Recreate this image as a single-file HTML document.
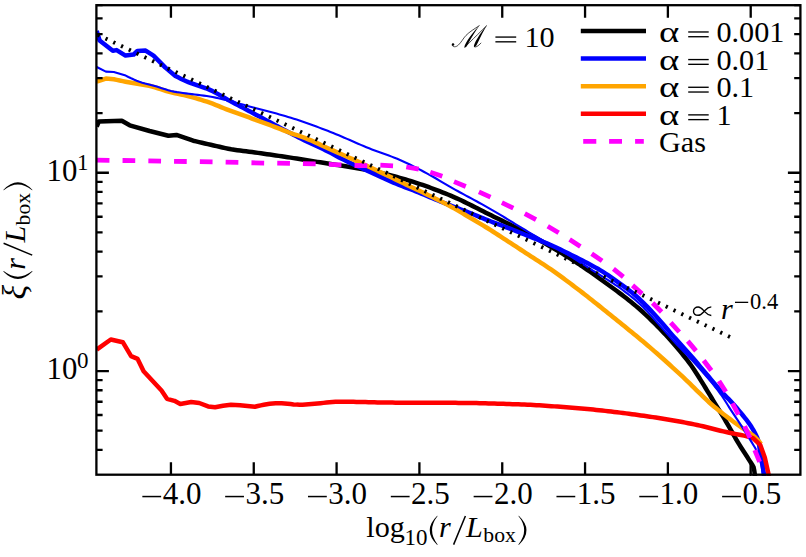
<!DOCTYPE html>
<html><head><meta charset="utf-8"><title>xi(r/Lbox)</title>
<style>html,body{margin:0;padding:0;background:#fff;}svg{display:block;}text{font-family:"Liberation Serif",serif;fill:#000;}.i{font-style:italic;}</style></head><body>
<svg width="806" height="557" viewBox="0 0 806 557">
<rect x="0" y="0" width="806" height="557" fill="#fff"/>
<defs><clipPath id="c"><rect x="96.4" y="5.2" width="704" height="470.7"/></clipPath></defs>
<g clip-path="url(#c)" fill="none" stroke-linejoin="round" stroke-linecap="butt">
<path d="M96.7 126.5 L98.9 121.4 L121.8 120.8 L129.7 125.3 L149.6 131 L168.4 135.7 L176.4 134.9 L193.2 140.7 L196.12 141.39 L199.04 142.08 L201.96 142.76 L204.88 143.44 L207.81 144.1 L210.73 144.77 L213.66 145.43 L216.59 146.1 L219.51 146.79 L222.44 147.48 L225.36 148.14 L228.3 148.76 L231.24 149.32 L234.2 149.8 L237.16 150.22 L240.14 150.6 L243.12 150.95 L246.1 151.31 L249.08 151.68 L252.05 152.08 L255.03 152.48 L258 152.89 L260.97 153.31 L263.94 153.73 L266.91 154.15 L269.88 154.57 L272.85 155 L275.82 155.44 L278.79 155.87 L281.75 156.31 L284.72 156.75 L287.69 157.2 L290.65 157.64 L293.62 158.1 L296.58 158.55 L299.55 159.02 L302.51 159.49 L305.48 159.96 L308.44 160.43 L311.4 160.91 L314.36 161.38 L317.32 161.86 L320.29 162.34 L323.25 162.82 L326.21 163.29 L329.17 163.76 L332.14 164.23 L335.1 164.69 L338.07 165.14 L341.04 165.58 L344 166.03 L346.97 166.49 L349.94 166.95 L352.9 167.42 L355.86 167.91 L358.81 168.42 L361.76 168.96 L364.71 169.52 L367.65 170.1 L370.59 170.71 L373.52 171.35 L376.45 172 L379.38 172.67 L382.3 173.35 L385.21 174.05 L388.13 174.76 L391.04 175.49 L393.95 176.24 L396.85 177.01 L399.75 177.8 L402.63 178.61 L405.51 179.45 L408.38 180.32 L411.24 181.21 L414.09 182.12 L416.95 183.05 L419.8 184.01 L422.64 184.98 L425.48 185.97 L428.31 186.98 L431.13 188.01 L433.95 189.06 L436.76 190.12 L439.56 191.2 L442.36 192.3 L445.14 193.41 L447.91 194.54 L450.67 195.68 L453.42 196.86 L456.16 198.07 L458.89 199.31 L461.6 200.58 L464.31 201.87 L467 203.19 L469.7 204.52 L472.38 205.87 L475.07 207.22 L477.75 208.58 L480.43 209.94 L483.11 211.3 L485.79 212.65 L488.48 213.99 L491.17 215.32 L493.86 216.65 L496.55 217.97 L499.25 219.29 L501.94 220.61 L504.64 221.94 L507.33 223.26 L510.02 224.6 L512.7 225.94 L515.38 227.29 L518.06 228.65 L520.73 230.02 L523.39 231.4 L526.04 232.8 L528.68 234.21 L531.31 235.64 L533.94 237.08 L536.56 238.54 L539.18 240.01 L541.79 241.49 L544.4 242.98 L547 244.48 L549.59 245.99 L552.18 247.51 L554.76 249.05 L557.33 250.59 L559.9 252.14 L562.47 253.7 L565.02 255.27 L567.57 256.85 L570.12 258.44 L572.64 260.05 L575.16 261.69 L577.66 263.34 L580.16 265 L582.66 266.67 L585.15 268.34 L587.64 270.01 L590.12 271.7 L592.59 273.41 L595.03 275.14 L597.45 276.92 L599.86 278.7 L602.29 280.46 L604.73 282.21 L607.16 283.97 L609.6 285.72 L612.02 287.49 L614.44 289.26 L616.86 291.03 L619.27 292.82 L621.67 294.63 L624.05 296.45 L626.42 298.29 L628.78 300.15 L631.11 302.03 L633.43 303.93 L635.73 305.86 L638.01 307.81 L640.28 309.78 L642.52 311.77 L644.73 313.8 L646.91 315.85 L649.08 317.93 L651.22 320.03 L653.36 322.14 L655.48 324.26 L657.58 326.4 L659.67 328.56 L661.75 330.72 L663.83 332.88 L665.89 335.06 L667.94 337.25 L669.96 339.47 L671.96 341.7 L673.93 343.96 L675.89 346.24 L677.82 348.53 L679.74 350.84 L681.64 353.17 L683.52 355.5 L685.4 357.85 L687.26 360.21 L689.08 362.59 L690.87 365 L692.6 367.44 L694.28 369.92 L695.9 372.44 L697.5 374.99 L699.09 377.54 L700.68 380.08 L702.26 382.63 L703.83 385.18 L705.4 387.74 L706.96 390.3 L708.53 392.86 L710.08 395.43 L711.63 398 L713.18 400.57 L714.73 403.13 L716.3 405.69 L717.89 408.23 L719.49 410.77 L721.08 413.32 L722.65 415.88 L724.18 418.45 L725.69 421.04 L727.2 423.64 L728.7 426.24 L730.2 428.84 L731.69 431.44 L733.16 434.05 L734.64 436.67 L736.13 439.27 L737.64 441.86 L739.19 444.43 L740.78 446.97 L742.4 449.5 L744.03 452.02 L745.67 454.53 L747.29 457.06 L748.88 459.6 L750.49 462.16 L752.27 464.7 L753.62 467.33 L754.19 470.12 L754.62 473.03 L754.91 476.06 L755 479" stroke="#000" stroke-width="4.5"/>
<path d="M750.5 464 L750.5 476" stroke="#000" stroke-width="1.4"/>
<path d="M96.7 31 L99.6 40.5 L112.8 50.8 L116.6 50.1 L125.5 55.6 L133.7 54.5 L137.4 51 L145.6 50.6 L153.5 55.7 L165.4 67.6 L175.4 76 L178.08 77.37 L180.78 78.7 L183.49 79.98 L186.23 81.2 L188.98 82.37 L191.77 83.45 L194.61 84.45 L197.47 85.39 L200.34 86.31 L203.19 87.26 L206.02 88.26 L208.79 89.37 L211.49 90.6 L214.16 91.94 L216.79 93.38 L219.4 94.88 L222 96.4 L224.6 97.92 L227.21 99.42 L229.85 100.86 L232.5 102.27 L235.15 103.68 L237.8 105.08 L240.45 106.47 L243.11 107.87 L245.77 109.26 L248.42 110.66 L251.07 112.07 L253.72 113.48 L256.36 114.9 L259 116.32 L261.64 117.75 L264.28 119.17 L266.92 120.61 L269.56 122.04 L272.2 123.47 L274.84 124.89 L277.48 126.32 L280.12 127.74 L282.77 129.15 L285.42 130.56 L288.07 131.96 L290.73 133.35 L293.39 134.73 L296.06 136.1 L298.73 137.46 L301.41 138.8 L304.11 140.12 L306.81 141.41 L309.53 142.69 L312.24 143.96 L314.96 145.23 L317.68 146.5 L320.4 147.78 L323.1 149.08 L325.8 150.39 L328.48 151.73 L331.14 153.11 L333.78 154.55 L336.41 156 L339.05 157.41 L341.73 158.77 L344.42 160.09 L347.12 161.4 L349.83 162.68 L352.55 163.95 L355.27 165.21 L358 166.46 L360.73 167.7 L363.47 168.94 L366.2 170.18 L368.93 171.42 L371.66 172.67 L374.38 173.93 L377.11 175.19 L379.84 176.44 L382.56 177.7 L385.3 178.94 L388.03 180.17 L390.78 181.38 L393.53 182.58 L396.29 183.74 L399.06 184.88 L401.85 185.98 L404.67 187.02 L407.48 188.05 L410.29 189.11 L413.08 190.21 L415.87 191.33 L418.64 192.45 L421.42 193.6 L424.19 194.74 L426.96 195.9 L429.73 197.05 L432.5 198.21 L435.27 199.36 L438.04 200.51 L440.82 201.64 L443.6 202.76 L446.39 203.87 L449.18 204.96 L451.98 206.05 L454.78 207.13 L457.58 208.21 L460.38 209.29 L463.18 210.37 L465.97 211.46 L468.77 212.55 L471.55 213.66 L474.33 214.78 L477.11 215.92 L479.89 217.05 L482.67 218.19 L485.45 219.31 L488.23 220.42 L491.03 221.51 L493.83 222.58 L496.64 223.64 L499.45 224.68 L502.27 225.73 L505.08 226.78 L507.88 227.84 L510.68 228.92 L513.47 230.02 L516.26 231.12 L519.05 232.24 L521.83 233.35 L524.61 234.48 L527.4 235.6 L530.18 236.71 L532.97 237.81 L535.77 238.91 L538.56 240 L541.35 241.11 L544.14 242.23 L546.91 243.38 L549.66 244.56 L552.4 245.78 L555.12 247.03 L557.84 248.31 L560.54 249.6 L563.24 250.92 L565.94 252.24 L568.63 253.57 L571.32 254.9 L574 256.24 L576.68 257.59 L579.35 258.95 L582.02 260.33 L584.68 261.71 L587.33 263.11 L589.98 264.52 L592.63 265.94 L595.27 267.37 L597.89 268.83 L600.48 270.34 L603.02 271.92 L605.54 273.54 L608.04 275.21 L610.52 276.9 L612.98 278.63 L615.43 280.36 L617.87 282.11 L620.31 283.85 L622.76 285.6 L625.19 287.35 L627.61 289.14 L629.99 290.96 L632.33 292.83 L634.62 294.76 L636.87 296.75 L639.08 298.78 L641.26 300.84 L643.42 302.92 L645.55 305.04 L647.65 307.18 L649.74 309.34 L651.8 311.52 L653.83 313.72 L655.84 315.95 L657.83 318.19 L659.81 320.45 L661.79 322.71 L663.75 324.97 L665.71 327.25 L667.65 329.54 L669.59 331.83 L671.54 334.11 L673.51 336.37 L675.5 338.61 L677.5 340.85 L679.5 343.08 L681.51 345.31 L683.53 347.53 L685.56 349.74 L687.59 351.95 L689.61 354.17 L691.61 356.41 L693.57 358.67 L695.51 360.96 L697.43 363.27 L699.34 365.58 L701.25 367.89 L703.18 370.19 L705.11 372.49 L707.05 374.77 L708.99 377.06 L710.93 379.35 L712.85 381.66 L714.76 383.98 L716.68 386.29 L718.62 388.57 L720.6 390.82 L722.65 393.01 L724.74 395.16 L726.86 397.29 L728.96 399.43 L731.02 401.61 L733.04 403.83 L735.03 406.07 L737 408.34 L738.95 410.62 L740.87 412.93 L742.76 415.26 L744.64 417.6 L746.5 419.96 L748.31 422.36 L750.04 424.81 L751.67 427.31 L753.24 429.88 L754.69 432.51 L756.04 435.19 L757.32 437.94 L758.26 440.75 L758.89 443.65 L759.39 446.61 L759.82 449.6 L760.26 452.59 L760.78 455.55 L761.38 458.49 L761.98 461.43 L762.51 464.38 L762.97 467.34 L763.39 470.31 L763.78 473.28 L764.13 476.27 L764.4 479" stroke="#00f" stroke-width="4.5"/>
<path d="M96.7 81.5 L105.9 78.6 L113.8 79.2 L116.73 79.85 L119.66 80.48 L122.6 81.1 L125.54 81.69 L128.48 82.27 L131.43 82.81 L134.4 83.31 L137.37 83.77 L140.34 84.23 L143.3 84.71 L146.25 85.23 L149.18 85.81 L152.09 86.51 L154.97 87.33 L157.83 88.24 L160.68 89.2 L163.54 90.15 L166.4 91.05 L169.29 91.87 L172.2 92.59 L175.12 93.25 L178.06 93.88 L181 94.5 L183.93 95.13 L186.86 95.79 L189.76 96.52 L192.66 97.3 L195.55 98.12 L198.43 98.97 L201.3 99.86 L204.16 100.78 L207 101.72 L209.84 102.69 L212.65 103.73 L215.44 104.82 L218.22 105.95 L221 107.1 L223.77 108.24 L226.56 109.36 L229.36 110.43 L232.17 111.47 L235 112.49 L237.82 113.49 L240.65 114.49 L243.48 115.48 L246.31 116.48 L249.14 117.49 L251.96 118.51 L254.78 119.54 L257.6 120.56 L260.42 121.59 L263.23 122.62 L266.05 123.66 L268.86 124.7 L271.67 125.75 L274.48 126.8 L277.29 127.86 L280.09 128.94 L282.88 130.04 L285.67 131.14 L288.47 132.23 L291.28 133.28 L294.11 134.27 L296.95 135.24 L299.8 136.21 L302.63 137.19 L305.45 138.21 L308.24 139.3 L311 140.45 L313.75 141.65 L316.48 142.89 L319.2 144.16 L321.92 145.44 L324.64 146.72 L327.36 147.98 L330.1 149.21 L332.84 150.43 L335.59 151.64 L338.33 152.84 L341.08 154.04 L343.83 155.25 L346.57 156.47 L349.31 157.69 L352.04 158.92 L354.77 160.17 L357.5 161.42 L360.23 162.67 L362.95 163.93 L365.67 165.2 L368.39 166.47 L371.1 167.74 L373.82 169.02 L376.53 170.31 L379.24 171.6 L381.94 172.89 L384.65 174.19 L387.35 175.49 L390.06 176.79 L392.76 178.09 L395.46 179.4 L398.16 180.7 L400.86 182.01 L403.56 183.31 L406.27 184.6 L408.98 185.89 L411.69 187.18 L414.41 188.47 L417.12 189.76 L419.83 191.05 L422.54 192.34 L425.25 193.64 L427.95 194.94 L430.65 196.25 L433.35 197.57 L436.04 198.9 L438.72 200.24 L441.39 201.6 L444.06 202.97 L446.71 204.35 L449.36 205.76 L451.99 207.18 L454.61 208.64 L457.22 210.13 L459.81 211.64 L462.4 213.16 L464.98 214.69 L467.57 216.22 L470.15 217.75 L472.73 219.27 L475.32 220.8 L477.9 222.33 L480.47 223.87 L483.04 225.41 L485.61 226.97 L488.16 228.54 L490.71 230.13 L493.24 231.73 L495.76 233.36 L498.28 234.99 L500.79 236.63 L503.3 238.28 L505.81 239.92 L508.32 241.57 L510.83 243.2 L513.35 244.84 L515.86 246.47 L518.38 248.11 L520.89 249.75 L523.41 251.39 L525.92 253.03 L528.43 254.67 L530.94 256.3 L533.46 257.94 L535.98 259.56 L538.51 261.19 L541.03 262.82 L543.54 264.46 L546.05 266.11 L548.54 267.78 L551.01 269.47 L553.47 271.18 L555.92 272.91 L558.36 274.66 L560.79 276.42 L563.21 278.19 L565.62 279.97 L568.03 281.77 L570.43 283.57 L572.83 285.37 L575.22 287.19 L577.61 289 L579.99 290.82 L582.37 292.65 L584.74 294.48 L587.11 296.33 L589.47 298.18 L591.83 300.03 L594.18 301.89 L596.53 303.76 L598.87 305.63 L601.21 307.51 L603.55 309.39 L605.89 311.27 L608.22 313.16 L610.56 315.05 L612.89 316.93 L615.22 318.82 L617.55 320.71 L619.89 322.59 L622.22 324.48 L624.55 326.36 L626.89 328.25 L629.22 330.14 L631.55 332.03 L633.87 333.93 L636.19 335.83 L638.51 337.74 L640.82 339.65 L643.12 341.57 L645.42 343.51 L647.7 345.45 L649.98 347.4 L652.25 349.36 L654.52 351.33 L656.78 353.3 L659.03 355.28 L661.27 357.27 L663.52 359.27 L665.75 361.27 L667.98 363.27 L670.21 365.28 L672.43 367.3 L674.65 369.32 L676.86 371.34 L679.07 373.38 L681.26 375.42 L683.45 377.47 L685.63 379.54 L687.8 381.61 L689.94 383.71 L692.08 385.82 L694.21 387.93 L696.34 390.04 L698.49 392.14 L700.64 394.22 L702.8 396.31 L704.96 398.39 L707.14 400.46 L709.34 402.49 L711.58 404.48 L713.86 406.43 L716.18 408.34 L718.51 410.23 L720.86 412.09 L723.22 413.95 L725.59 415.78 L727.99 417.59 L730.39 419.39 L732.79 421.18 L735.21 422.96 L737.64 424.72 L740.07 426.48 L742.51 428.23 L744.97 429.96 L747.49 431.62 L750.02 433.29 L752.45 435.03 L754.73 436.92 L756.85 439 L758.84 441.25 L760.72 443.63 L761 444" stroke="#ffa500" stroke-width="4.5"/>
<path d="M96.7 349.6 L110.8 339.5 L122.8 342.2 L131.1 356.1 L137.6 358.9 L143.6 371.2 L161.5 390.5 L167 398.8 L174.4 400.8 L180.3 404 L191.2 402 L199.2 403 L208.1 406.4 L215.1 407.3 L223 405.8 L230.9 404.8 L240 405.3 L254.9 406.8 L257.85 406.03 L260.81 405.33 L263.77 404.72 L266.74 404.2 L269.71 403.78 L272.68 403.46 L275.65 403.27 L278.63 403.2 L281.61 403.28 L284.6 403.49 L287.59 403.79 L290.59 404.1 L293.59 404.4 L296.58 404.62 L299.58 404.7 L302.57 404.66 L305.56 404.53 L308.55 404.34 L311.54 404.1 L314.53 403.82 L317.52 403.51 L320.52 403.19 L323.51 402.87 L326.5 402.56 L329.49 402.28 L332.48 402.05 L335.48 401.86 L338.47 401.74 L341.47 401.7 L344.46 401.71 L347.46 401.74 L350.46 401.78 L353.46 401.83 L356.46 401.89 L359.46 401.96 L362.46 402.04 L365.46 402.12 L368.46 402.2 L371.46 402.28 L374.46 402.35 L377.46 402.42 L380.46 402.48 L383.46 402.54 L386.46 402.58 L389.46 402.6 L392.46 402.62 L395.46 402.64 L398.46 402.66 L401.46 402.67 L404.46 402.69 L407.46 402.7 L410.46 402.71 L413.46 402.72 L416.46 402.73 L419.46 402.73 L422.46 402.74 L425.46 402.75 L428.46 402.76 L431.46 402.77 L434.46 402.78 L437.46 402.79 L440.46 402.8 L443.46 402.81 L446.46 402.82 L449.46 402.84 L452.46 402.85 L455.46 402.87 L458.46 402.89 L461.46 402.91 L464.46 402.94 L467.46 402.98 L470.46 403.02 L473.46 403.07 L476.46 403.12 L479.46 403.18 L482.46 403.25 L485.46 403.32 L488.46 403.4 L491.46 403.48 L494.46 403.56 L497.46 403.65 L500.45 403.74 L503.45 403.84 L506.45 403.94 L509.45 404.04 L512.45 404.14 L515.44 404.25 L518.44 404.36 L521.44 404.47 L524.43 404.59 L527.43 404.73 L530.43 404.87 L533.42 405.03 L536.42 405.2 L539.41 405.37 L542.41 405.56 L545.4 405.75 L548.4 405.95 L551.39 406.16 L554.38 406.37 L557.38 406.59 L560.37 406.82 L563.36 407.04 L566.35 407.28 L569.35 407.51 L572.34 407.75 L575.33 407.99 L578.31 408.24 L581.3 408.48 L584.29 408.75 L587.28 409.02 L590.27 409.31 L593.25 409.61 L596.24 409.92 L599.22 410.23 L602.2 410.56 L605.19 410.88 L608.17 411.22 L611.15 411.56 L614.13 411.9 L617.1 412.26 L620.08 412.63 L623.06 413.01 L626.03 413.39 L629.01 413.78 L631.98 414.18 L634.96 414.59 L637.93 414.99 L640.9 415.41 L643.87 415.82 L646.84 416.25 L649.81 416.68 L652.78 417.12 L655.75 417.56 L658.71 418.02 L661.67 418.48 L664.64 418.96 L667.6 419.45 L670.55 419.95 L673.51 420.46 L676.46 420.98 L679.42 421.51 L682.37 422.05 L685.32 422.61 L688.27 423.18 L691.21 423.76 L694.15 424.36 L697.09 424.97 L700.02 425.6 L702.94 426.27 L705.85 426.99 L708.75 427.75 L711.65 428.52 L714.56 429.29 L717.46 430.04 L720.38 430.75 L723.3 431.42 L726.23 432.07 L729.16 432.7 L732.09 433.32 L735.03 433.92 L737.98 434.5 L740.92 435.07 L743.88 435.62 L746 436 L753 438.2 L760.2 444.8 L764.8 457.5 L769.6 479" stroke="#f00" stroke-width="4.5"/>
<path d="M96.7 67 L105.9 71.6 L113.8 72 L125.7 75.6 L128.39 76.99 L131.1 78.31 L133.85 79.54 L136.61 80.69 L139.41 81.75 L142.23 82.7 L145.1 83.54 L148 84.3 L150.92 85.02 L153.84 85.75 L156.73 86.56 L159.61 87.45 L162.47 88.39 L165.33 89.33 L168.2 90.21 L171.09 90.99 L174 91.61 L176.94 92.12 L179.91 92.56 L182.89 92.96 L185.87 93.35 L188.85 93.74 L191.83 94.14 L194.81 94.51 L197.79 94.87 L200.77 95.24 L203.74 95.62 L206.71 96.04 L209.67 96.51 L212.62 97.05 L215.56 97.64 L218.49 98.29 L221.42 98.96 L224.34 99.64 L227.25 100.35 L230.16 101.09 L233.06 101.86 L235.95 102.65 L238.84 103.47 L241.73 104.28 L244.62 105.1 L247.51 105.91 L250.4 106.71 L253.3 107.49 L256.2 108.26 L259.1 109.02 L262.01 109.78 L264.91 110.53 L267.82 111.29 L270.72 112.05 L273.62 112.82 L276.52 113.6 L279.41 114.4 L282.3 115.21 L285.18 116.04 L288.05 116.9 L290.91 117.78 L293.77 118.68 L296.62 119.6 L299.46 120.55 L302.31 121.52 L305.14 122.5 L307.97 123.5 L310.8 124.51 L313.62 125.54 L316.44 126.58 L319.25 127.63 L322.06 128.69 L324.87 129.76 L327.67 130.83 L330.46 131.91 L333.25 133.02 L336.02 134.16 L338.79 135.31 L341.55 136.49 L344.3 137.68 L347.05 138.88 L349.8 140.08 L352.55 141.29 L355.3 142.5 L358.06 143.69 L360.81 144.88 L363.58 146.04 L366.35 147.19 L369.13 148.31 L371.93 149.4 L374.74 150.46 L377.56 151.49 L380.38 152.51 L383.21 153.52 L386.04 154.54 L388.86 155.56 L391.67 156.61 L394.47 157.69 L397.25 158.81 L400 159.97 L402.73 161.18 L405.46 162.43 L408.17 163.72 L410.86 165.03 L413.55 166.38 L416.23 167.74 L418.9 169.13 L421.55 170.53 L424.21 171.95 L426.85 173.37 L429.48 174.8 L432.1 176.26 L434.7 177.75 L437.29 179.27 L439.86 180.81 L442.44 182.36 L445.02 183.89 L447.6 185.42 L450.2 186.91 L452.81 188.39 L455.44 189.85 L458.06 191.29 L460.7 192.73 L463.34 194.16 L465.98 195.58 L468.62 197.01 L471.26 198.43 L473.9 199.85 L476.54 201.28 L479.18 202.72 L481.81 204.16 L484.43 205.62 L487.04 207.09 L489.65 208.57 L492.24 210.07 L494.83 211.59 L497.41 213.12 L499.98 214.66 L502.55 216.21 L505.12 217.76 L507.68 219.33 L510.24 220.89 L512.8 222.46 L515.36 224.03 L517.92 225.59 L520.48 227.15 L523.05 228.7 L525.62 230.25 L528.2 231.79 L530.78 233.31 L533.37 234.83 L535.97 236.33 L538.57 237.83 L541.17 239.32 L543.78 240.8 L546.38 242.29 L548.99 243.77 L551.6 245.26 L554.2 246.75 L556.8 248.25 L559.4 249.75 L561.99 251.26 L564.57 252.79 L567.15 254.32 L569.71 255.87 L572.27 257.45 L574.81 259.04 L577.35 260.64 L579.88 262.25 L582.41 263.86 L584.95 265.47 L587.48 267.07 L590.02 268.67 L592.56 270.27 L595.09 271.87 L597.62 273.48 L600.15 275.1 L602.69 276.71 L605.23 278.3 L607.78 279.9 L610.32 281.51 L612.84 283.13 L615.34 284.78 L617.81 286.47 L620.25 288.21 L622.66 289.98 L625.07 291.79 L627.46 293.62 L629.83 295.48 L632.17 297.37 L634.48 299.3 L636.76 301.25 L638.99 303.24 L641.18 305.26 L643.33 307.33 L645.42 309.46 L647.49 311.63 L649.52 313.84 L651.53 316.07 L653.52 318.33 L655.5 320.6 L657.48 322.86 L659.47 325.13 L661.47 327.37 L663.47 329.6 L665.47 331.85 L667.45 334.09 L669.44 336.34 L671.44 338.58 L673.46 340.79 L675.5 342.99 L677.56 345.17 L679.64 347.34 L681.72 349.5 L683.8 351.66 L685.88 353.82 L687.96 355.99 L690.02 358.16 L692.07 360.35 L694.11 362.56 L696.14 364.76 L698.17 366.98 L700.18 369.21 L702.17 371.45 L704.15 373.7 L706.12 375.97 L708.07 378.25 L709.99 380.55 L711.89 382.87 L713.77 385.21 L715.64 387.56 L717.48 389.93 L719.28 392.33 L721.05 394.76 L722.75 397.22 L724.39 399.72 L726 402.26 L727.59 404.8 L729.18 407.35 L730.8 409.88 L732.45 412.39 L734.11 414.88 L735.79 417.37 L737.46 419.86 L739.12 422.36 L740.76 424.88 L742.38 427.4 L743.98 429.93 L745.59 432.47 L747.18 435.01 L748.78 437.55 L750.37 440.09 L751.95 442.65 L753.5 445.22 L755.07 447.79 L756.47 450.43 L757.65 453.17 L758.73 455.99 L759.68 458.85 L760.49 461.73 L761.19 464.64 L761.79 467.59 L762.28 470.55 L762.71 473.51 L763.07 476.5 L763.3 479" stroke="#00f" stroke-width="2.1"/>
<path d="M96.75 160.1 L109.45 160.3 M122.55 160.5 L135.25 160.7 M148.35 160.9 L161.05 161.1 M174.05 161.3 L186.75 161.5 M199.85 161.7 L212.55 161.9 M225.65 162.06 L238.35 162.34 M251.45 162.76 L264.15 163.04 M277.25 163.19 L289.95 163.41 M302.95 163.64 L315.65 163.96 M328.75 164.38 L341.45 164.82 M354.55 165.49 L367.25 165.71 M380.36 165.19 L393.04 165.81 M406.25 166.99 L418.75 169.21 M430.28 172.27 L442.32 176.33 M454.04 181.65 L465.76 186.55 M478.9 191.91 L490.5 197.09 M501.88 202.64 L513.32 208.16 M524.79 213.63 L536.01 219.57 M547.74 226.27 L558.66 232.73 M569.64 239.59 L580.36 246.41 M591.67 253.71 L602.13 260.89 M613.44 268.83 L623.36 276.77 M632.57 285.36 L642.03 293.84 M652.61 303.01 L661.59 311.99 M670.74 322.59 L679.26 332.01 M687.79 341.16 L696.01 350.84 M703.67 360.43 L711.33 370.57 M718.97 381.05 L725.83 391.75 M732.36 403.43 L738.44 414.57 M744.63 426.24 L749.97 437.76 M754.78 450.13 L759.62 461.87" stroke="#f0f" stroke-width="4.8"/>
<path d="M97.7 34.71 L731.2 337.58" stroke="#000" stroke-width="3.9" stroke-dasharray="2.2 6.425"/>
</g>
<g stroke="#000" stroke-width="2.3" fill="none">
<path d="M170.94 5.2 v12.5 M170.94 474.7 v-12.5 M253.76 5.2 v12.5 M253.76 474.7 v-12.5 M336.59 5.2 v12.5 M336.59 474.7 v-12.5 M419.41 5.2 v12.5 M419.41 474.7 v-12.5 M502.24 5.2 v12.5 M502.24 474.7 v-12.5 M585.06 5.2 v12.5 M585.06 474.7 v-12.5 M667.88 5.2 v12.5 M667.88 474.7 v-12.5 M750.71 5.2 v12.5 M750.71 474.7 v-12.5 M96.4 449.93 h6.2 M800.4 449.93 h-6.2 M96.4 430.71 h6.2 M800.4 430.71 h-6.2 M96.4 415.01 h6.2 M800.4 415.01 h-6.2 M96.4 401.74 h6.2 M800.4 401.74 h-6.2 M96.4 390.24 h6.2 M800.4 390.24 h-6.2 M96.4 380.1 h6.2 M800.4 380.1 h-6.2 M96.4 371.03 h12.5 M800.4 371.03 h-12.5 M96.4 311.34 h6.2 M800.4 311.34 h-6.2 M96.4 276.43 h6.2 M800.4 276.43 h-6.2 M96.4 251.66 h6.2 M800.4 251.66 h-6.2 M96.4 232.44 h6.2 M800.4 232.44 h-6.2 M96.4 216.74 h6.2 M800.4 216.74 h-6.2 M96.4 203.47 h6.2 M800.4 203.47 h-6.2 M96.4 191.97 h6.2 M800.4 191.97 h-6.2 M96.4 181.83 h6.2 M800.4 181.83 h-6.2 M96.4 172.76 h12.5 M800.4 172.76 h-12.5 M96.4 113.07 h6.2 M800.4 113.07 h-6.2 M96.4 78.16 h6.2 M800.4 78.16 h-6.2 M96.4 53.39 h6.2 M800.4 53.39 h-6.2 M96.4 34.17 h6.2 M800.4 34.17 h-6.2 M96.4 18.47 h6.2 M800.4 18.47 h-6.2 M96.4 5.2 h6.2 M800.4 5.2 h-6.2"/>
<rect x="96.4" y="5.2" width="704" height="469.5"/>
</g>
<rect x="142.34" y="495.8" width="18.8" height="1.5" fill="#000"/>
<text x="162.64" y="503.9" font-size="31">4.0</text>
<rect x="225.16" y="495.8" width="18.8" height="1.5" fill="#000"/>
<text x="245.46" y="503.9" font-size="31">3.5</text>
<rect x="307.99" y="495.8" width="18.8" height="1.5" fill="#000"/>
<text x="328.29" y="503.9" font-size="31">3.0</text>
<rect x="390.81" y="495.8" width="18.8" height="1.5" fill="#000"/>
<text x="411.11" y="503.9" font-size="31">2.5</text>
<rect x="473.64" y="495.8" width="18.8" height="1.5" fill="#000"/>
<text x="493.94" y="503.9" font-size="31">2.0</text>
<rect x="556.46" y="495.8" width="18.8" height="1.5" fill="#000"/>
<text x="576.76" y="503.9" font-size="31">1.5</text>
<rect x="639.28" y="495.8" width="18.8" height="1.5" fill="#000"/>
<text x="659.58" y="503.9" font-size="31">1.0</text>
<rect x="722.11" y="495.8" width="18.8" height="1.5" fill="#000"/>
<text x="742.41" y="503.9" font-size="31">0.5</text>
<text x="46.6" y="180.86" font-size="30.8">10</text>
<text x="77.0" y="169.76" font-size="23">1</text>
<text x="46.6" y="379.13" font-size="30.8">10</text>
<text x="77.0" y="368.03" font-size="23">0</text>
<path d="M580.8 30.9 H646" stroke="#000" stroke-width="4.5" fill="none"/>
<path d="M580.8 58.5 H646" stroke="#00f" stroke-width="4.5" fill="none"/>
<path d="M580.8 86.2 H646" stroke="#ffa500" stroke-width="4.5" fill="none"/>
<path d="M580.8 113.8 H646" stroke="#f00" stroke-width="4.5" fill="none"/>
<path d="M583.2 141.3 H596.3 M609.1 141.3 H622 M635.1 141.3 H643.8" stroke="#f0f" stroke-width="4.8" fill="none"/>
<text transform="translate(658.9 42) scale(1.28 1)" font-size="30.2">α</text>
<rect x="688.2" y="31.3" width="20.5" height="1.35" fill="#000"/><rect x="688.2" y="36.05" width="20.5" height="1.35" fill="#000"/>
<text x="716.4" y="42" font-size="30.2">0.001</text>
<text transform="translate(658.9 69.6) scale(1.28 1)" font-size="30.2">α</text>
<rect x="688.2" y="58.9" width="20.5" height="1.35" fill="#000"/><rect x="688.2" y="63.65" width="20.5" height="1.35" fill="#000"/>
<text x="716.4" y="69.6" font-size="30.2">0.01</text>
<text transform="translate(658.9 97.3) scale(1.28 1)" font-size="30.2">α</text>
<rect x="688.2" y="86.6" width="20.5" height="1.35" fill="#000"/><rect x="688.2" y="91.35" width="20.5" height="1.35" fill="#000"/>
<text x="716.4" y="97.3" font-size="30.2">0.1</text>
<text transform="translate(658.9 124.9) scale(1.28 1)" font-size="30.2">α</text>
<rect x="688.2" y="114.2" width="20.5" height="1.35" fill="#000"/><rect x="688.2" y="118.95" width="20.5" height="1.35" fill="#000"/>
<text x="716.4" y="124.9" font-size="30.2">1</text>
<text x="659.0" y="152.4" font-size="30.2">Gas</text>
<g fill="none" stroke="#000" stroke-linecap="round" stroke-linejoin="round">
<circle cx="453.0" cy="44.6" r="1.25" fill="#000" stroke="none"/>
<path d="M452.2 45.4 C453 47.3 455.8 47.3 458.2 45.2 C461.5 42.2 463 38.6 466 35.4 C469.5 31.8 474.5 28.8 479.2 25.7" stroke-width="0.7"/>
<path d="M464.9 47.3 C467 45 472 40 477.6 34.6 C480.8 31.4 483.8 28.4 486.6 25.7" stroke-width="0.7"/>
<path d="M474.2 46.6 C475.5 48 478.3 46 480.9 43.1" stroke-width="0.7"/>
</g>
<path d="M479.4 25.6 C474.5 30.5 468 39 465.2 44.5 C464.2 46.6 464.3 47.6 465.0 47.5 C466.4 47.4 467.0 45.7 468.5 43.1 C471.5 37.6 475.6 30.8 479.4 25.6 Z" fill="#000"/>
<path d="M486.8 25.6 C482.0 31.0 477.0 38.5 474.8 43.3 C473.8 45.6 473.6 47.0 474.5 47.0 C475.9 46.9 476.6 45.1 477.9 42.5 C480.5 37.1 483.7 30.6 486.8 25.6 Z" fill="#000"/>
<rect x="495.4" y="36.4" width="20.8" height="1.35" fill="#000"/><rect x="495.4" y="41.15" width="20.8" height="1.35" fill="#000"/>
<text x="524.5" y="47.1" font-size="30.2">10</text>
<path d="M711.3 306.9 C707.5 307.2 706 309.4 704.3 311.2 C702.4 313.2 700.8 315.3 698.2 315.3 C695.4 315.3 693.5 313.5 693.5 311.2 C693.5 308.9 695.4 307.0 698.2 307.0 C700.8 307.0 702.4 309.2 704.3 311.2 C706 313 707.5 315.2 711.3 315.5" fill="none" stroke="#000" stroke-width="1.4"/>
<text x="721" y="318.8" font-size="30.2" class="i">r</text>
<rect x="735.0" y="301.7" width="13.2" height="1.3" fill="#000"/>
<text x="750.0" y="308.5" font-size="22.5">0.4</text>
<text x="366.3" y="537.2" font-size="30.2">log</text>
<text x="404.5" y="544.6" font-size="23">10</text>
<g transform="translate(429.7 537.2)"><path d="M7.5 -21.5 Q-7.5 -6.9 7.5 7.7 L7.9 7.3 Q-3.2 -6.9 7.9 -21.1 Z" fill="#000"/><text x="9.2" y="0" font-size="30.2" class="i">r</text><path d="M23.9 7.4 L35.7 -21.2" stroke="#000" stroke-width="1.5" fill="none"/><text x="36.4" y="0" font-size="30.2" class="i">L</text><text x="53.6" y="4.7" font-size="21.7">box</text><path d="M89.1 -21.5 Q104.5 -6.9 89.1 7.7 L88.7 7.3 Q100.2 -6.9 88.7 -21.1 Z" fill="#000"/></g>
<g transform="translate(24.8 279.0) rotate(-90)"><path d="M7.5 -21.5 Q-7.5 -6.9 7.5 7.7 L7.9 7.3 Q-3.2 -6.9 7.9 -21.1 Z" fill="#000"/><text x="9.2" y="0" font-size="30.2" class="i">r</text><path d="M23.9 7.4 L35.7 -21.2" stroke="#000" stroke-width="1.5" fill="none"/><text x="36.4" y="0" font-size="30.2" class="i">L</text><text x="53.6" y="4.7" font-size="21.7">box</text><path d="M89.1 -21.5 Q104.5 -6.9 89.1 7.7 L88.7 7.3 Q100.2 -6.9 88.7 -21.1 Z" fill="#000"/></g>
<text transform="translate(25.8 299.45) rotate(-90)" font-size="34" class="i">ξ</text>
</svg></body></html>
